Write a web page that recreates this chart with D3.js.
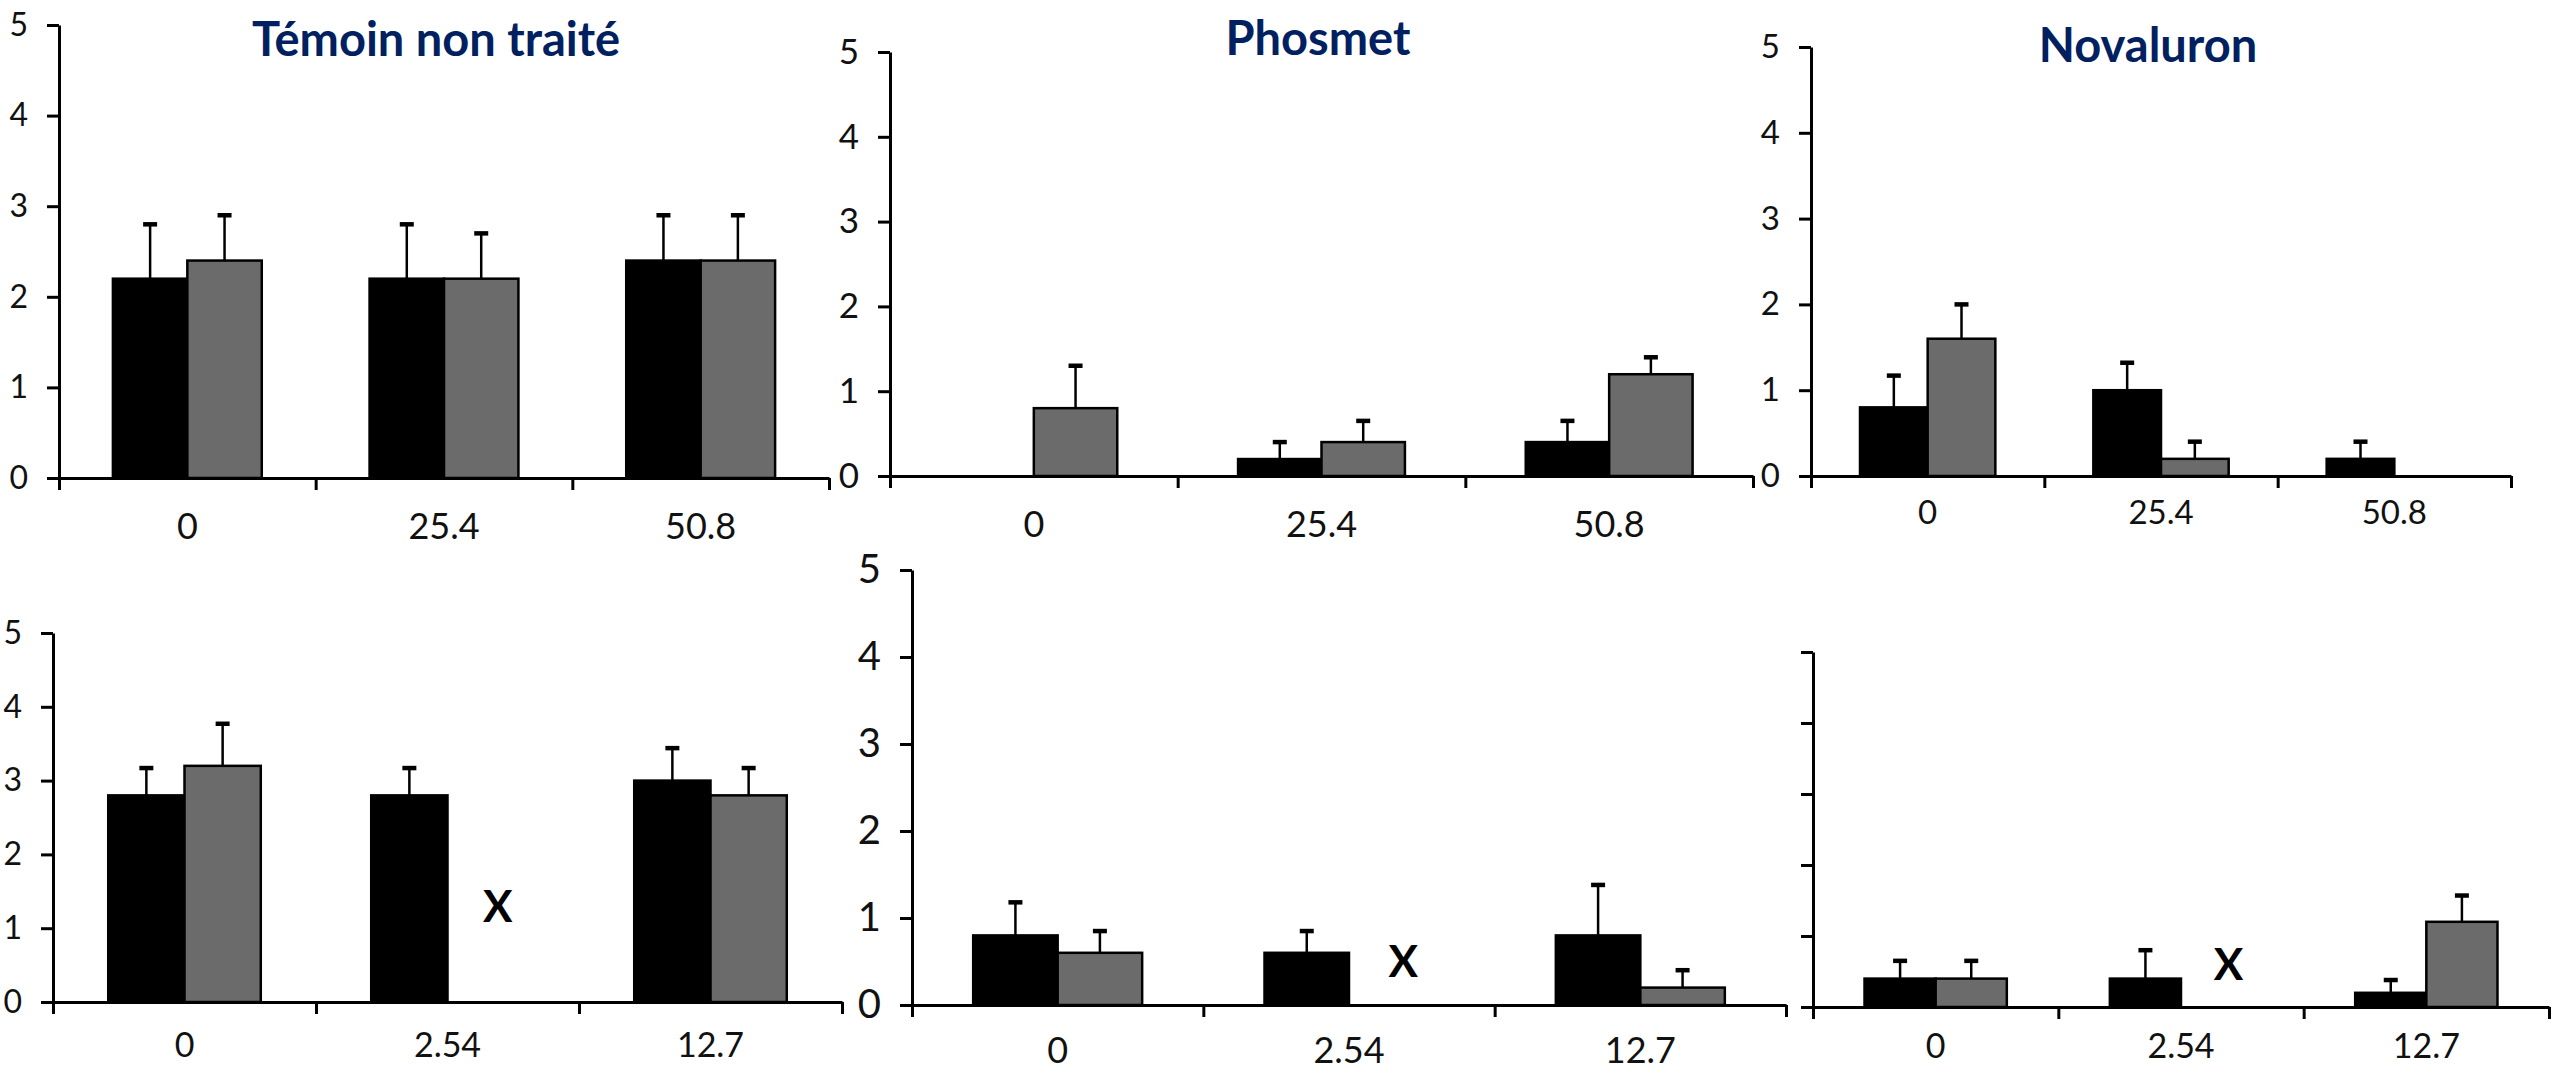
<!DOCTYPE html>
<html>
<head>
<meta charset="utf-8">
<script src="https://cdn.jsdelivr.net/npm/d3@7"></script>
<style>
  body { margin: 0; background: #fff; }
  svg { display: block; }
  .tick text { font-family: Lato, "Open Sans", sans-serif; fill: #111; }
</style>
</head>
<body>
<div id="chart"></div>
<script>
// doses (categories) and axis ticks
let dosesTop = ["0", "25.4", "50.8"]
let dosesBottom = ["0", "2.54", "12.7"]
let yTicks = [0, 1, 2, 3, 4, 5]
let titles = ["Témoin non traité", "Phosmet", "Novaluron"]

// means (black = first series, gray = second series) and upper error (SE)
let temoinTopBlack = [2.2, 2.2, 2.4]
let temoinTopBlackErr = [0.6, 0.6, 0.5]
let temoinTopGray = [2.4, 2.2, 2.4]
let temoinTopGrayErr = [0.5, 0.5, 0.5]

let phosmetTopBlack = [0, 0.2, 0.4]
let phosmetTopBlackErr = [0, 0.2, 0.25]
let phosmetTopGray = [0.8, 0.4, 1.2]
let phosmetTopGrayErr = [0.5, 0.25, 0.2]

let novaTopBlack = [0.8, 1.0, 0.2]
let novaTopBlackErr = [0.37, 0.32, 0.2]
let novaTopGray = [1.6, 0.2, 0]
let novaTopGrayErr = [0.4, 0.2, 0]

let temoinBotBlack = [2.8, 2.8, 3.0]
let temoinBotBlackErr = [0.37, 0.37, 0.44]
let temoinBotGray = [3.2, null, 2.8]
let temoinBotGrayErr = [0.57, null, 0.37]

let phosmetBotBlack = [0.8, 0.6, 0.8]
let phosmetBotBlackErr = [0.38, 0.25, 0.58]
let phosmetBotGray = [0.6, null, 0.2]
let phosmetBotGrayErr = [0.25, null, 0.2]

let novaBotBlack = [0.4, 0.4, 0.2]
let novaBotBlackErr = [0.25, 0.4, 0.18]
let novaBotGray = [0.4, null, 1.2]
let novaBotGrayErr = [0.25, null, 0.37]

// height (in y units) of the "X" drawn where a value is missing, bottom row
let missingMarkY = [1.3, 0.5, 0.6]

let width = 2552
let height = 1074

let svg = d3.select("#chart")
  .append("svg")
  .attr("width", width)
  .attr("height", height)

// panel layout (pixels)
let panels = [
  {title: titles[0], cats: dosesTop, black: temoinTopBlack, blackErr: temoinTopBlackErr,
   gray: temoinTopGray, grayErr: temoinTopGrayErr,
   x0: 59, x1: 829, y0: 478, y5: 25, tx: 436, ty: 56, yFont: 32, xFont: 36, xPad: 35, yLabels: true},
  {title: titles[1], cats: dosesTop, black: phosmetTopBlack, blackErr: phosmetTopBlackErr,
   gray: phosmetTopGray, grayErr: phosmetTopGrayErr,
   x0: 890, x1: 1753, y0: 476, y5: 52, tx: 1318, ty: 55, yFont: 35, xFont: 36, xPad: 35, yLabels: true},
  {title: titles[2], cats: dosesTop, black: novaTopBlack, blackErr: novaTopBlackErr,
   gray: novaTopGray, grayErr: novaTopGrayErr,
   x0: 1811, x1: 2511, y0: 476, y5: 47, tx: 2148, ty: 62, yFont: 33, xFont: 33, xPad: 25, yLabels: true},
  {cats: dosesBottom, black: temoinBotBlack, blackErr: temoinBotBlackErr,
   gray: temoinBotGray, grayErr: temoinBotGrayErr, mark: missingMarkY[0],
   x0: 53, x1: 842, y0: 1002, y5: 633, yFont: 32, xFont: 34, xPad: 31, yLabels: true},
  {cats: dosesBottom, black: phosmetBotBlack, blackErr: phosmetBotBlackErr,
   gray: phosmetBotGray, grayErr: phosmetBotGrayErr, mark: missingMarkY[1],
   x0: 912, x1: 1786, y0: 1005, y5: 570, yFont: 40, xFont: 36, xPad: 32, yLabels: true},
  {cats: dosesBottom, black: novaBotBlack, blackErr: novaBotBlackErr,
   gray: novaBotGray, grayErr: novaBotGrayErr, mark: missingMarkY[2],
   x0: 1813, x1: 2549, y0: 1007, y5: 652, yFont: 34, xFont: 34, xPad: 27, yLabels: false}
]

let series = ["black", "gray"]
let fills = {black: "#000", gray: "#6b6b6b"}

panels.forEach(p => {
  let g = svg.append("g")

  let yScale = d3.scaleLinear().domain([0, 5]).range([p.y0, p.y5])

  let xScale = d3.scaleBand()
    .domain(p.cats)
    .range([p.x0, p.x1])
    .paddingInner(0.42)
    .paddingOuter(0.21)

  let sScale = d3.scaleBand()
    .domain(series)
    .range([0, xScale.bandwidth()])

  // tick marks between groups
  let edgeScale = d3.scaleLinear().domain([0, p.cats.length]).range([p.x0, p.x1])

  // bars + error bars
  series.forEach(s => {
    let vals = p[s]
    let errs = p[s + "Err"]
    let rows = p.cats.map((c, i) => ({cat: c, v: vals[i], e: errs[i]}))
      .filter(d => d.v !== null)

    let bw = sScale.bandwidth()

    g.selectAll(".err-" + s)
      .data(rows.filter(d => d.e > 0))
      .enter()
      .append("g")
      .each(function(d) {
        let cx = xScale(d.cat) + sScale(s) + bw / 2
        let sel = d3.select(this)
        sel.append("line")
          .attr("x1", cx).attr("x2", cx)
          .attr("y1", yScale(d.v)).attr("y2", yScale(d.v + d.e))
          .attr("stroke", "#000").attr("stroke-width", 2.5)
        sel.append("line")
          .attr("x1", cx - 7).attr("x2", cx + 7)
          .attr("y1", yScale(d.v + d.e)).attr("y2", yScale(d.v + d.e))
          .attr("stroke", "#000").attr("stroke-width", 4.5)
      })

    g.selectAll(".bar-" + s)
      .data(rows)
      .enter()
      .append("rect")
      .attr("x", d => xScale(d.cat) + sScale(s))
      .attr("y", d => yScale(d.v))
      .attr("width", bw)
      .attr("height", d => yScale(0) - yScale(d.v))
      .attr("fill", fills[s])
      .attr("stroke", "#000")
      .attr("stroke-width", 2.5)
  })

  // "X" where the gray value is missing
  if (p.mark !== undefined) {
    p.cats.forEach((c, i) => {
      if (p.gray[i] === null) {
        g.append("text")
          .attr("x", xScale(c) + sScale("gray") + sScale.bandwidth() / 2 + 12)
          .attr("y", yScale(p.mark))
          .attr("dy", "0.36em")
          .attr("text-anchor", "middle")
          .attr("font-family", "Lato, 'Open Sans', sans-serif")
          .attr("font-weight", "bold")
          .attr("font-size", 44)
          .attr("fill", "#000")
          .text("X")
      }
    })
  }

  // y axis
  let yAxis = d3.axisLeft(yScale)
    .tickValues(yTicks)
    .tickSizeInner(12)
    .tickSizeOuter(0)
    .tickPadding(19)
    .tickFormat(p.yLabels ? d3.format("d") : () => "")

  let ya = g.append("g")
    .attr("transform", `translate(${p.x0},0)`)
    .call(yAxis)
  ya.selectAll("path, line").attr("stroke", "#000").attr("stroke-width", 3)
  ya.selectAll("text").attr("font-size", p.yFont)

  // x axis line with ticks between groups
  let edgeAxis = d3.axisBottom(edgeScale)
    .tickValues(d3.range(p.cats.length + 1))
    .tickSizeInner(12)
    .tickSizeOuter(0)
    .tickFormat(() => "")

  let xa = g.append("g")
    .attr("transform", `translate(0,${p.y0})`)
    .call(edgeAxis)
  xa.selectAll("path, line").attr("stroke", "#000").attr("stroke-width", 3)

  // dose labels centered under groups
  let labelAxis = d3.axisBottom(xScale).tickSize(0).tickPadding(p.xPad)
  let la = g.append("g")
    .attr("transform", `translate(0,${p.y0})`)
    .call(labelAxis)
  la.select(".domain").remove()
  la.selectAll("text").attr("font-size", p.xFont)

  if (p.title) {
    g.append("text")
      .attr("x", p.tx)
      .attr("y", p.ty)
      .attr("text-anchor", "middle")
      .attr("font-family", "Lato, 'Open Sans', sans-serif")
      .attr("font-weight", "bold")
      .attr("font-size", 47)
      .attr("fill", "#002060")
      .text(p.title)
  }
})
</script>
</body>
</html>
